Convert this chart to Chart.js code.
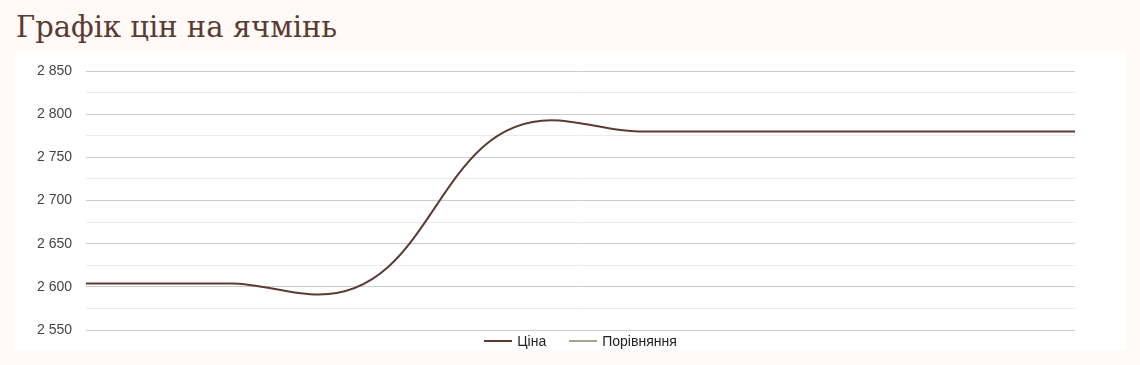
<!DOCTYPE html>
<html lang="uk">
<head>
<meta charset="utf-8">
<title>Графік цін на ячмінь</title>
<script src="https://cdn.jsdelivr.net/npm/chart.js@4.4.1/dist/chart.umd.min.js"></script>
<style>
  html, body { margin: 0; padding: 0; background: #fffaf7; }
  body { width: 1140px; height: 365px; overflow: hidden; position: relative; }
  h2 {
    position: absolute; left: 16px; top: 10px; margin: 0;
    font-family: "DejaVu Serif", serif; font-weight: normal;
    font-size: 29px; line-height: 34px; color: #5a3a31;
  }
  .panel { position: absolute; left: 15px; top: 51px; width: 1111px; height: 299px; background: #fff; }
  canvas { position: absolute; left: 0; top: 0; }
  #legend {
    position: absolute; left: 71px; width: 989px; top: 281px; height: 18px;
    display: flex; justify-content: center; align-items: center; gap: 23px;
    font-family: "Liberation Sans", Arial, sans-serif; font-size: 14px; color: #222;
  }
  #legend .item { display: flex; align-items: center; }
  #legend .sw { display: inline-block; width: 28px; height: 2px; margin-right: 5px; }
</style>
</head>
<body>
<h2>Графік цін на ячмінь</h2>
<div class="panel">
  <canvas id="priceChart" width="1111" height="299"></canvas>
  <div id="legend"></div>
</div>
<script>
// дні від першої дати
const dayOffsets = [0, 5, 8, 16, 19, 34];
const prices = [2604, 2604, 2591, 2793, 2780, 2780];
const compare = [];
const yTicks = [2550, 2600, 2650, 2700, 2750, 2800, 2850];
const seriesNames = ["Ціна", "Порівняння"];
const seriesColors = ["#5c3b33", "#a4a690"];

function fmtNum(v) {
  return String(v).replace(/\B(?=(\d{3})+(?!\d))/g, " ");
}

// на довгих відрізках ручки безьє довші (крива як у оригіналі)
const longerHandles = {
  id: "longerHandles",
  beforeDatasetDraw(chart, args) {
    const line = args.meta.dataset;
    const pts = args.meta.data;
    if (!line || pts.length < 2) return;
    line._pointsUpdated = false;
    line.updateControlPoints(chart.chartArea, "x");
    for (let i = 0; i < pts.length - 1; i++) {
      const a = pts[i], b = pts[i + 1];
      const k = (b.x - a.x) > 150 ? 1.5 : 1;
      a.cp2x = a.x + (a.cp2x - a.x) * k;
      a.cp2y = a.y + (a.cp2y - a.y) * k;
      b.cp1x = b.x + (b.cp1x - b.x) * k;
      b.cp1y = b.y + (b.cp1y - b.y) * k;
    }
  }
};

const ctx = document.getElementById("priceChart").getContext("2d");
const chart = new Chart(ctx, {
  type: "line",
  data: {
    datasets: [
      {
        label: seriesNames[0],
        data: dayOffsets.map((d, i) => ({ x: d, y: prices[i] })),
        borderColor: seriesColors[0],
        borderWidth: 2,
        pointRadius: 0,
        cubicInterpolationMode: "monotone",
        fill: false
      },
      {
        label: seriesNames[1],
        data: compare,
        borderColor: seriesColors[1],
        borderWidth: 2,
        pointRadius: 0
      }
    ]
  },
  options: {
    responsive: false,
    animation: false,
    layout: { padding: { left: 0, right: 51, top: 20, bottom: 20 } },
    scales: {
      x: { type: "linear", min: dayOffsets[0], max: dayOffsets[dayOffsets.length - 1], display: false },
      y: {
        min: yTicks[0],
        max: yTicks[yTicks.length - 1],
        afterFit: s => { s.width = 71; s.paddingTop = 0; s.paddingBottom = 0; },
        border: { display: false },
        grid: {
          drawTicks: false,
          color: c => (c.tick && c.tick.value % 50 === 0) ? "#cccccc" : "#ebebeb"
        },
        ticks: {
          stepSize: 25,
          padding: 14,
          color: "#444444",
          font: { family: "'Liberation Sans', Arial, sans-serif", size: 14 },
          callback: v => (v % 50 === 0 ? fmtNum(v) : "")
        }
      }
    },
    plugins: {
      tooltip: { enabled: false },
      legend: { display: false }
    }
  },
  plugins: [longerHandles]
});

// легенда під графіком
const legendEl = document.getElementById("legend");
legendEl.innerHTML = chart.data.datasets.map(ds =>
  `<span class="item"><span class="sw" style="background:${ds.borderColor}"></span>${ds.label}</span>`
).join("");
</script>
</body>
</html>
